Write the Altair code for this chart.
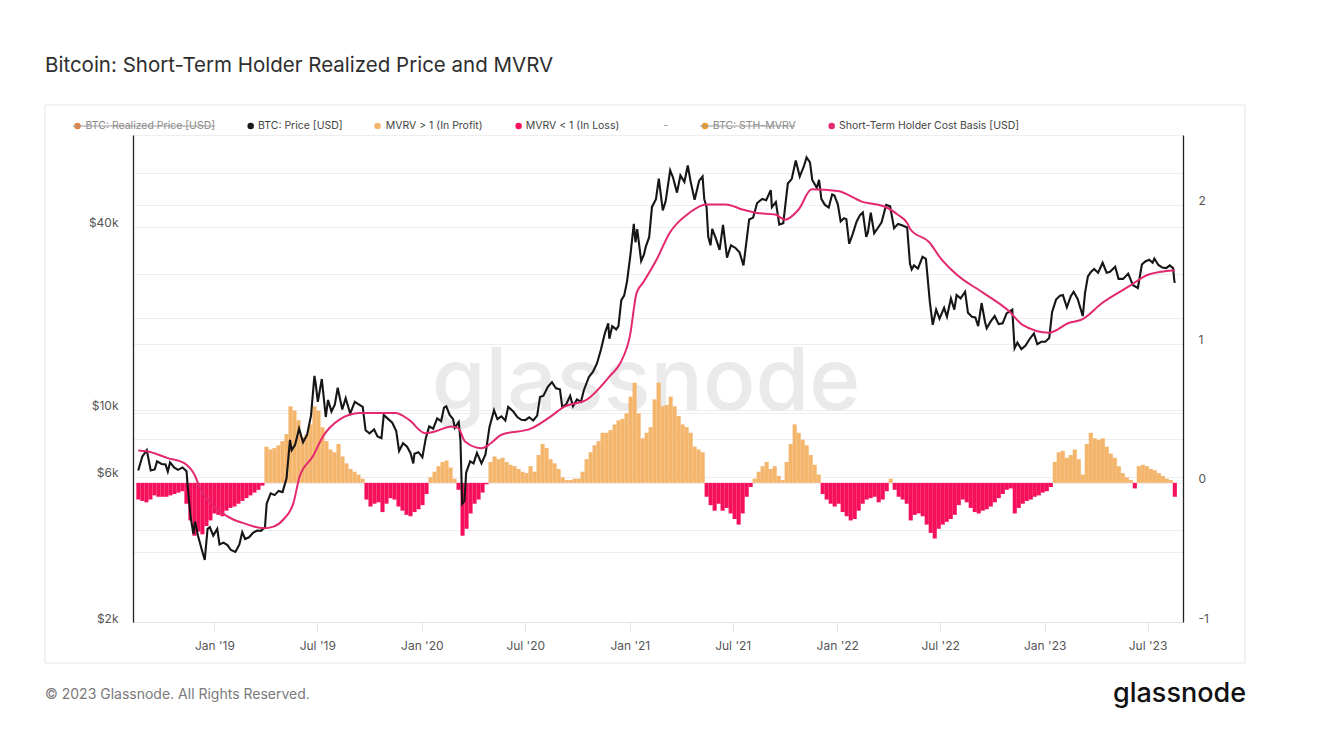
import altair as alt
import pandas as pd

# ---------------- data ----------------
price_dates = [
    "2018-08-20","2018-08-27","2018-09-04","2018-09-11","2018-09-18","2018-09-22","2018-09-30","2018-10-07","2018-10-11","2018-10-15",
    "2018-10-22","2018-10-29","2018-11-06","2018-11-13","2018-11-15","2018-11-20","2018-11-25","2018-11-28","2018-12-03","2018-12-10",
    "2018-12-15","2018-12-20","2018-12-24","2018-12-30","2019-01-06","2019-01-10","2019-01-17","2019-01-24","2019-01-30","2019-02-07",
    "2019-02-14","2019-02-19","2019-02-24","2019-03-03","2019-03-10","2019-03-17","2019-03-24","2019-03-31","2019-04-03","2019-04-10",
    "2019-04-17","2019-04-24","2019-05-01","2019-05-08","2019-05-14","2019-05-17","2019-05-23","2019-05-30","2019-06-06","2019-06-13",
    "2019-06-20","2019-06-26","2019-06-28","2019-07-02","2019-07-09","2019-07-16","2019-07-20","2019-07-26","2019-08-01","2019-08-06",
    "2019-08-14","2019-08-20","2019-08-28","2019-09-05","2019-09-12","2019-09-19","2019-09-24","2019-10-01","2019-10-09","2019-10-15",
    "2019-10-22","2019-10-26","2019-11-03","2019-11-10","2019-11-17","2019-11-22","2019-11-29","2019-12-06","2019-12-12","2019-12-17",
    "2019-12-19","2019-12-26","2020-01-02","2020-01-08","2020-01-14","2020-01-21","2020-01-28","2020-02-04","2020-02-09","2020-02-13",
    "2020-02-19","2020-02-25","2020-02-28","2020-03-06","2020-03-09","2020-03-12","2020-03-16","2020-03-19","2020-03-26","2020-04-01",
    "2020-04-07","2020-04-15","2020-04-22","2020-04-29","2020-05-07","2020-05-13","2020-05-20","2020-05-27","2020-06-01","2020-06-10",
    "2020-06-17","2020-06-24","2020-07-01","2020-07-08","2020-07-15","2020-07-22","2020-07-27","2020-08-02","2020-08-10","2020-08-17",
    "2020-08-24","2020-08-31","2020-09-04","2020-09-11","2020-09-18","2020-09-23","2020-09-30","2020-10-07","2020-10-12","2020-10-21",
    "2020-10-28","2020-11-04","2020-11-11","2020-11-18","2020-11-24","2020-11-26","2020-12-01","2020-12-08","2020-12-12","2020-12-17",
    "2020-12-22","2020-12-27","2021-01-02","2021-01-08","2021-01-11","2021-01-14","2021-01-21","2021-01-26","2021-01-29","2021-02-04",
    "2021-02-09","2021-02-16","2021-02-21","2021-02-28","2021-03-05","2021-03-13","2021-03-18","2021-03-25","2021-03-31","2021-04-07",
    "2021-04-13","2021-04-18","2021-04-25","2021-05-03","2021-05-09","2021-05-12","2021-05-16","2021-05-19","2021-05-23","2021-05-26",
    "2021-06-01","2021-06-08","2021-06-14","2021-06-21","2021-06-28","2021-07-06","2021-07-13","2021-07-20","2021-07-25","2021-07-30",
    "2021-08-06","2021-08-13","2021-08-22","2021-08-29","2021-09-06","2021-09-08","2021-09-15","2021-09-21","2021-09-28","2021-10-06",
    "2021-10-13","2021-10-20","2021-10-27","2021-11-03","2021-11-08","2021-11-14","2021-11-18","2021-11-26","2021-11-30","2021-12-04",
    "2021-12-10","2021-12-17","2021-12-23","2021-12-27","2022-01-02","2022-01-07","2022-01-13","2022-01-17","2022-01-22","2022-01-28",
    "2022-02-04","2022-02-10","2022-02-15","2022-02-21","2022-02-24","2022-03-01","2022-03-07","2022-03-14","2022-03-20","2022-03-28",
    "2022-04-04","2022-04-11","2022-04-18","2022-04-25","2022-05-04","2022-05-09","2022-05-12","2022-05-16","2022-05-23","2022-05-31",
    "2022-06-06","2022-06-13","2022-06-18","2022-06-24","2022-06-30","2022-07-08","2022-07-13","2022-07-20","2022-07-26","2022-07-30",
    "2022-08-06","2022-08-14","2022-08-19","2022-08-26","2022-09-01","2022-09-06","2022-09-12","2022-09-18","2022-09-21","2022-09-28",
    "2022-10-05","2022-10-12","2022-10-19","2022-10-26","2022-11-05","2022-11-09","2022-11-14","2022-11-21","2022-11-28","2022-12-05",
    "2022-12-13","2022-12-19","2022-12-26","2023-01-02","2023-01-09","2023-01-14","2023-01-21","2023-01-28","2023-02-02","2023-02-09",
    "2023-02-16","2023-02-21","2023-02-28","2023-03-09","2023-03-13","2023-03-18","2023-03-23","2023-03-29","2023-04-05","2023-04-13",
    "2023-04-20","2023-04-26","2023-05-05","2023-05-11","2023-05-19","2023-05-28","2023-06-05","2023-06-14","2023-06-21","2023-06-27",
    "2023-07-04","2023-07-10","2023-07-13","2023-07-20","2023-07-27","2023-08-03","2023-08-09","2023-08-15","2023-08-17","2023-08-18",
]
price_values = [
    6300,7000,7350,6300,6350,6750,6620,6600,6250,6700,
    6450,6330,6450,6270,5600,4450,3900,4280,3850,3450,
    3200,4050,4100,3850,4050,3600,3650,3580,3450,3400,
    3600,3950,3750,3800,3930,4000,3990,4100,4900,5300,
    5230,5400,5350,5950,7950,7350,7650,8650,7800,8250,
    9550,12900,12250,10600,12600,9450,10750,9850,10400,11800,
    10000,10900,9700,10600,10400,10200,8550,8350,8600,8150,
    8050,9600,9300,9050,8500,7300,7750,7550,7200,6650,
    7150,7240,6970,8050,8800,8650,9350,9150,10150,10250,
    9600,9300,8700,9100,7900,4900,5000,6200,6750,6650,
    7200,6650,7120,8750,9950,9300,9500,9200,10200,9850,
    9450,9250,9230,9430,9200,9550,11000,11100,11900,12300,
    11750,11650,10200,10400,11100,10250,10800,10600,11550,12800,
    13300,14150,15700,17800,19200,17100,18800,18350,18800,22900,
    23700,26300,32200,40800,35500,39200,30800,32400,34300,36900,
    46400,49200,57500,45200,48400,61200,58000,51700,58900,56100,
    63500,56200,49000,56600,58400,49200,46400,37000,34700,39300,
    36700,33500,40500,31600,34700,34000,32900,29800,35400,42200,
    42800,47800,49300,48800,52700,46300,48100,40600,41000,55400,
    57400,66000,58400,62900,67500,65000,56900,53600,57000,49300,
    47200,46200,51000,50600,47300,41600,42600,42300,35100,37700,
    41500,43600,44500,37000,38300,44400,38000,39700,41300,47100,
    46600,39500,40800,40400,39700,30100,28900,29800,29100,31800,
    31300,22500,19000,21300,19900,21600,20200,23200,21300,23800,
    23200,24400,20800,20200,20100,18800,22400,19400,18500,19500,
    20300,19100,19200,20700,21300,15900,16600,15800,16200,17000,
    17800,16400,16700,16700,17200,20900,23000,23700,23800,21700,
    23600,24400,23100,20300,24200,27400,28300,29000,28200,30400,
    28200,28400,29500,26900,26900,28000,25700,25100,30000,30700,
    31100,30400,31400,29900,29300,29200,29800,29200,26600,26100,
]

cost_dates = [
    "2018-08-20","2018-09-06","2018-10-11","2018-11-09","2018-11-27","2018-12-08","2019-01-01","2019-02-04","2019-02-21","2019-03-28",
    "2019-04-15","2019-05-02","2019-05-20","2019-05-31","2019-06-23","2019-07-11","2019-08-09","2019-09-13","2019-11-16","2019-12-09",
    "2020-01-07","2020-01-24","2020-02-22","2020-03-05","2020-03-17","2020-04-15","2020-05-02","2020-05-20","2020-07-11","2020-08-15",
    "2020-09-07","2020-10-18","2020-11-27","2020-12-15","2021-01-01","2021-01-13","2021-01-24","2021-02-17","2021-03-12","2021-04-16",
    "2021-05-15","2021-06-19","2021-07-18","2021-08-10","2021-09-14","2021-10-01","2021-10-25","2021-11-17","2022-01-02","2022-02-12",
    "2022-03-30","2022-04-17","2022-05-04","2022-05-10","2022-06-12","2022-07-01","2022-07-30","2022-09-15","2022-10-31","2022-11-23",
    "2023-01-09","2023-02-13","2023-03-08","2023-04-12","2023-05-29","2023-07-03","2023-08-18",
]
cost_values = [
    7330,7280,6920,6660,6100,5440,4800,4340,4230,4070,
    4120,4340,4920,6020,7000,8150,9260,9740,9740,9260,
    8360,8470,8800,8700,7850,7460,7760,8260,8650,9490,
    10200,10800,12900,14200,17400,24200,26100,31100,38100,44400,
    47300,47300,45500,44400,43800,42100,45500,53000,52300,48400,
    46100,43800,41100,39100,35500,31600,27800,24200,21000,19000,
    17900,19300,19800,22400,25400,27800,28700,
]

# STH-MVRV minus 1, one value per week (first 2018-08-20, last 2023-08-18)
mvrv_start = "2018-08-20 07:00"
mvrv_end = "2023-08-18 00:00"
mvrv_values = [
    -0.12,-0.13,-0.14,-0.12,-0.09,-0.10,-0.10,-0.10,-0.09,-0.08,
    -0.07,-0.06,-0.15,-0.27,-0.38,-0.35,-0.37,-0.31,-0.27,-0.22,
    -0.23,-0.24,-0.20,-0.18,-0.17,-0.15,-0.13,-0.11,-0.09,-0.07,
    -0.05,-0.02,0.26,0.24,0.25,0.27,0.30,0.35,0.55,0.52,
    0.45,0.33,0.35,0.42,0.55,0.52,0.40,0.30,0.24,0.22,
    0.28,0.19,0.14,0.10,0.08,0.06,0.03,-0.12,-0.17,-0.15,
    -0.14,-0.21,-0.15,-0.11,-0.12,-0.17,-0.20,-0.23,-0.24,-0.21,
    -0.19,-0.16,-0.08,0.04,0.08,0.12,0.15,0.16,0.11,0.03,
    -0.05,-0.38,-0.33,-0.22,-0.15,-0.12,-0.07,-0.01,0.15,0.19,
    0.17,0.18,0.15,0.13,0.12,0.10,0.08,0.07,0.12,0.08,
    0.20,0.28,0.25,0.17,0.14,0.10,0.04,0.02,0.02,0.03,
    0.03,0.08,0.17,0.22,0.27,0.30,0.36,0.36,0.38,0.42,
    0.45,0.46,0.50,0.62,0.72,0.50,0.32,0.36,0.40,0.60,
    0.72,0.55,0.56,0.62,0.55,0.48,0.42,0.40,0.36,0.26,
    0.24,0.22,-0.10,-0.16,-0.20,-0.15,-0.20,-0.18,-0.22,-0.26,
    -0.30,-0.22,-0.10,-0.03,0.03,0.08,0.12,0.15,0.10,0.12,
    0.05,0.02,0.15,0.28,0.42,0.36,0.31,0.27,0.20,0.13,
    0.06,-0.08,-0.12,-0.15,-0.17,-0.15,-0.21,-0.24,-0.27,-0.26,
    -0.20,-0.15,-0.12,-0.11,-0.10,-0.14,-0.12,-0.06,0.03,-0.05,
    -0.10,-0.12,-0.15,-0.27,-0.23,-0.22,-0.24,-0.30,-0.36,-0.40,
    -0.33,-0.30,-0.28,-0.26,-0.23,-0.16,-0.12,-0.14,-0.18,-0.21,
    -0.22,-0.20,-0.19,-0.17,-0.14,-0.11,-0.08,-0.05,-0.04,-0.22,
    -0.18,-0.15,-0.13,-0.12,-0.10,-0.09,-0.07,-0.06,-0.03,0.15,
    0.22,0.23,0.18,0.20,0.24,0.17,0.06,0.28,0.36,0.32,
    0.31,0.32,0.26,0.21,0.18,0.12,0.07,0.04,0.02,-0.04,
    0.12,0.13,0.12,0.10,0.09,0.07,0.05,0.03,0.02,-0.10,
]

x_tick_months = [(2019, 1), (2019, 7), (2020, 1), (2020, 7), (2021, 1), (2021, 7),
                 (2022, 1), (2022, 7), (2023, 1), (2023, 7)]
left_grid_values = [2000, 4000, 6000, 8000, 10000, 20000, 40000, 60000]
left_label_values = {2000: "$2k", 6000: "$6k", 10000: "$10k", 40000: "$40k"}
right_grid_values = [-1, -0.5, 0, 0.5, 1, 1.5, 2, 2.5]

title_text = "Bitcoin: Short-Term Holder Realized Price and MVRV"
footer_text = "\u00a9 2023 Glassnode. All Rights Reserved."
brand_text = "glassnode"

# ---------------- styling ----------------
W, H = 1050, 487
FONT = "Inter"
C_PRICE = "#161616"
C_COST = "#e3286f"
C_PROFIT = "#f4b56d"
C_LOSS = "#f6105b"
C_GRID = "#eeeeee"
C_LABEL = "#555555"

price_df = pd.DataFrame({"date": price_dates, "price": price_values})
cost_df = pd.DataFrame({"date": cost_dates, "cost": cost_values})
mvrv_df = pd.DataFrame({
    "date": pd.date_range(mvrv_start, mvrv_end, periods=len(mvrv_values)).strftime("%Y-%m-%dT%H:%M:%S"),
    "mvrv": mvrv_values,
})

x_scale = alt.Scale(domain=[alt.DateTime(year=2018, month=8, date=19, hours=14),
                            alt.DateTime(year=2023, month=8, date=23, hours=14)])
x_axis = alt.Axis(
    values=[alt.DateTime(year=y, month=m, date=1) for y, m in x_tick_months],
    format="%b '%y", title=None, grid=False,
    labelColor=C_LABEL, labelFont=FONT, labelFontSize=12, labelPadding=9,
    tickColor="#e4e4e4", tickSize=9, domainColor="#e4e4e4", labelFlush=False,
)


def X():
    return alt.X("date:T", scale=x_scale, axis=x_axis)


log_scale = alt.Scale(type="log", domain=[2000, 80000], nice=False)
left_expr = " : ".join(
    f"datum.value == {v} ? '{lab}'" for v, lab in left_label_values.items()
) + " : ''"
left_axis = alt.Axis(
    orient="left", values=left_grid_values, labelExpr=left_expr, title=None,
    ticks=False, domainColor="#222222", domainWidth=1.3,
    grid=True, gridColor=C_GRID, labelBaseline="alphabetic",
    labelColor=C_LABEL, labelFont=FONT, labelFontSize=12, labelPadding=15,
)
right_axis = alt.Axis(
    orient="right", values=right_grid_values,
    labelExpr="datum.value % 1 === 0 ? '' + datum.value : ''", title=None,
    ticks=False, domainColor="#222222", domainWidth=1.3,
    grid=True, gridColor=C_GRID, labelBaseline="alphabetic",
    labelColor=C_LABEL, labelFont=FONT, labelFontSize=12, labelPadding=15,
)

one = alt.Data(values=[{}])


def txt(t, x, y, size, color, align="left", weight=400, baseline="middle"):
    return alt.Chart(one).mark_text(
        text=t, align=align, baseline=baseline, fontSize=size, color=color,
        font=FONT, fontWeight=weight,
    ).encode(x=alt.value(x), y=alt.value(y))


def dot(x, y, color):
    return alt.Chart(one).mark_point(filled=True, size=42, color=color, opacity=1).encode(
        x=alt.value(x), y=alt.value(y))


def strike(x1, x2, y):
    return alt.Chart(one).mark_rule(color="#9a9a9a", strokeWidth=1).encode(
        x=alt.value(x1), x2=alt.value(x2), y=alt.value(y))


panel = alt.Chart(one).mark_rect(fill="transparent", stroke="#e6e6e6", strokeWidth=1).encode(
    x=alt.value(-88), x2=alt.value(1112), y=alt.value(-30), y2=alt.value(528))

watermark = txt(brand_text, 513, 275, 87, "#eaeaea", align="center", weight=500,
                baseline="alphabetic")

bars = alt.Chart(mvrv_df).mark_bar(width=4.1).encode(
    x=X(),
    y=alt.Y("mvrv:Q", scale=alt.Scale(domain=[-1, 2.5], nice=False, zero=False), axis=right_axis),
    y2=alt.datum(0),
    color=alt.condition("datum.mvrv > 0", alt.value(C_PROFIT), alt.value(C_LOSS)),
)

price_line = alt.Chart(price_df).mark_line(color=C_PRICE, strokeWidth=2.1).encode(
    x=X(), y=alt.Y("price:Q", scale=log_scale, axis=left_axis))

cost_line = alt.Chart(cost_df).mark_line(color=C_COST, strokeWidth=2, interpolate="monotone").encode(
    x=X(), y=alt.Y("cost:Q", scale=log_scale, axis=None))

LY = -9
LS = 10.5
legend = [
    dot(-55.5, LY, "#e8803f"), txt("BTC: Realized Price [USD]", -47.5, LY, LS, "#8a8a8a"),
    strike(-60, 82, LY),
    dot(117.7, LY, "#1a1a1a"), txt("BTC: Price [USD]", 125, LY, LS, "#444444"),
    dot(244.5, LY, C_PROFIT), txt("MVRV > 1 (In Profit)", 252.7, LY, LS, "#444444"),
    dot(385.6, LY, C_LOSS), txt("MVRV < 1 (In Loss)", 392.7, LY, LS, "#444444"),
    txt("-", 533, LY, LS, "#999999", align="center"),
    dot(572, LY, "#ef9a2a"), txt("BTC: STH-MVRV", 579.7, LY, LS, "#8a8a8a"),
    strike(567, 662, LY),
    dot(698.7, LY, C_COST), txt("Short-Term Holder Cost Basis [USD]", 706, LY, LS, "#444444"),
]

title = txt(title_text, -88, -69, 20.5, "#2e2e2e", weight=400)
footer = txt(footer_text, -88, 560, 14, "#7a7a7a")
brand = txt(brand_text, 980, 567, 27, "#111111", weight=500, baseline="alphabetic")

chart = alt.layer(
    panel, watermark, bars, price_line, cost_line, *legend, title, footer, brand
).resolve_scale(y="independent").properties(
    width=W, height=H,
    autosize=alt.AutoSizeParams(type="none"),
    padding={"left": 125, "top": 127, "right": 134, "bottom": 111},
    background="white",
).configure_view(strokeWidth=0)

chart.save("out.html", embed_options={"renderer": "svg", "actions": False})
